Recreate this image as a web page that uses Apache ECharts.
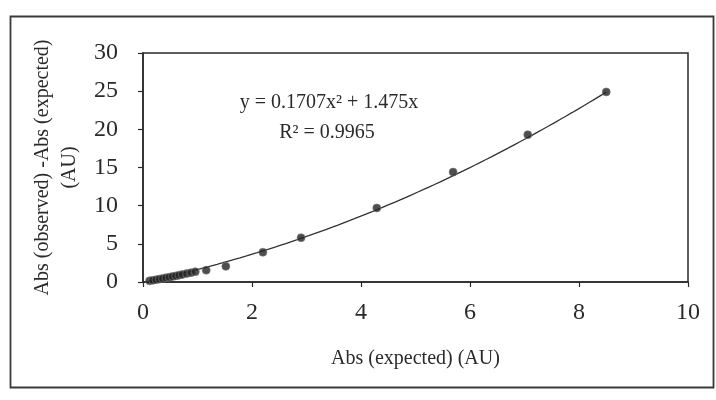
<!DOCTYPE html>
<html>
<head>
<meta charset="utf-8">
<style>
  html, body { margin: 0; padding: 0; background: #fff; }
  #chart { width: 716px; height: 400px; }
</style>
<script src="https://cdn.jsdelivr.net/npm/echarts@6/dist/echarts.min.js"></script>
</head>
<body>
<div id="chart"></div>
<script>
// Measured absorbance: expected vs. (observed - expected)
var absExpected = [0.12, 0.18, 0.24, 0.30, 0.36, 0.42, 0.48, 0.54, 0.60, 0.66, 0.72, 0.80, 0.88, 0.96,
                   1.16, 1.52, 2.20, 2.90, 4.29, 5.69, 7.06, 8.50];
var absDifference = [0.15, 0.22, 0.30, 0.38, 0.46, 0.55, 0.63, 0.72, 0.80, 0.90, 0.98, 1.10, 1.22, 1.35,
                     1.55, 2.05, 3.90, 5.80, 9.70, 14.40, 19.30, 24.90];

// Polynomial trendline coefficients (through origin): y = a*x^2 + b*x
var trendCoefficients = [0.1707, 1.475];
var trendRange = [0.1, 8.5];
var rSquared = '0.9965';

var xTicks = [0, 2, 4, 6, 8, 10];
var yTicks = [0, 5, 10, 15, 20, 25, 30];

var points = absExpected.map(function (x, i) { return [x, absDifference[i]]; });

var trendLine = [];
var steps = 80;
for (var i = 0; i <= steps; i++) {
  var x = trendRange[0] + (trendRange[1] - trendRange[0]) * i / steps;
  trendLine.push([x, trendCoefficients[0] * x * x + trendCoefficients[1] * x]);
}

var serif = '"Liberation Serif", "DejaVu Serif", serif';
var ink = '#2a2a2a';

var chart = echarts.init(document.getElementById('chart'), null, { renderer: 'canvas' });
chart.setOption({
  backgroundColor: '#ffffff',
  animation: false,
  grid: {
    left: 143, right: 28, top: 53, bottom: 118,
    show: true, borderColor: ink, borderWidth: 1.5, backgroundColor: 'transparent'
  },
  xAxis: {
    type: 'value',
    min: xTicks[0], max: xTicks[xTicks.length - 1], interval: 2,
    name: 'Abs (expected) (AU)',
    nameLocation: 'middle', nameGap: 67,
    nameTextStyle: { fontFamily: serif, fontSize: 20, color: ink },
    axisLine: { show: true, lineStyle: { color: ink, width: 1.5 } },
    axisTick: { show: true, inside: false, length: 5, lineStyle: { color: ink, width: 1.2 } },
    axisLabel: { fontFamily: serif, fontSize: 24, color: ink, margin: 19 },
    splitLine: { show: false }
  },
  yAxis: {
    type: 'value',
    min: yTicks[0], max: yTicks[yTicks.length - 1], interval: 5,
    name: 'Abs (observed) -Abs (expected)\n(AU)',
    nameLocation: 'middle', nameGap: 60, nameRotate: 90,
    nameTextStyle: { fontFamily: serif, fontSize: 20, color: ink, lineHeight: 27, align: 'center' },
    axisLine: { show: true, lineStyle: { color: ink, width: 1.5 } },
    axisTick: { show: true, inside: false, length: 5, lineStyle: { color: ink, width: 1.2 } },
    axisLabel: { fontFamily: serif, fontSize: 24, color: ink, margin: 25 },
    splitLine: { show: false }
  },
  series: [
    {
      name: 'Poly. trend',
      type: 'line',
      data: trendLine,
      showSymbol: false,
      smooth: false,
      lineStyle: { color: '#333', width: 1.3 },
      z: 2
    },
    {
      name: 'Abs',
      type: 'scatter',
      data: points,
      symbol: 'circle',
      symbolSize: 8,
      itemStyle: { color: '#222', borderColor: '#777', borderWidth: 0.8 },
      z: 3
    }
  ],
  graphic: [
    {
      type: 'rect',
      left: 8, top: 14,
      shape: { width: 703, height: 371 },
      style: { fill: 'none', stroke: '#3a3a3a', lineWidth: 1.8 },
      silent: true
    },
    {
      type: 'text',
      x: 329, y: 103,
      style: {
        text: 'y = ' + trendCoefficients[0] + 'x\u00B2 + ' + trendCoefficients[1] + 'x',
        font: '20px ' + serif, fill: ink, align: 'center', verticalAlign: 'middle'
      }
    },
    {
      type: 'text',
      x: 327, y: 133,
      style: {
        text: 'R\u00B2 = ' + rSquared,
        font: '20px ' + serif, fill: ink, align: 'center', verticalAlign: 'middle'
      }
    }
  ]
});
</script>
</body>
</html>
